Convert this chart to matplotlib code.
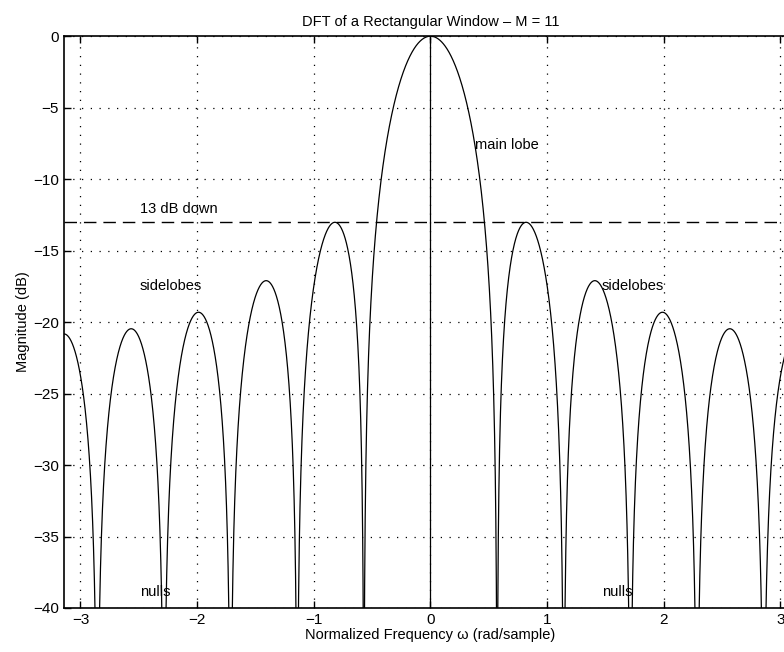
import numpy as np
import matplotlib.pyplot as plt

plt.rcParams['font.family'] = ['Liberation Sans', 'DejaVu Sans']

# Rectangular window, M = 11 samples
M = 11
window = [1, 1, 1, 1, 1, 1, 1, 1, 1, 1, 1]
nfft = 4096  # zero padding for a smooth spectrum

# Axis ticks and annotations
x_ticks = [-3, -2, -1, 0, 1, 2, 3]
y_ticks = [0, -5, -10, -15, -20, -25, -30, -35, -40]
sidelobe_level = -13
notes = [
    ('main lobe', 0.38, -7.6),
    ('13 dB down', -2.49, -12.1),
    ('sidelobes', -2.49, -17.5),
    ('sidelobes', 1.47, -17.5),
    ('nulls', -2.49, -38.9),
    ('nulls', 1.47, -38.9),
]

# Spectrum of the window
W = np.fft.fftshift(np.fft.fft(np.asarray(window, float), nfft))
w = np.fft.fftshift(np.fft.fftfreq(nfft)) * 2 * np.pi
mag_db = 20 * np.log10(np.abs(W) / np.max(np.abs(W)) + 1e-12)

fig = plt.figure(figsize=(7.84, 6.52), dpi=100)
ax = fig.add_axes([0.0816, 0.0675, 0.935, 0.877])

ax.plot(w, mag_db, color='black', linewidth=0.9)
ax.axhline(sidelobe_level, color='black', linewidth=1.0, linestyle=(0, (9, 5)))
ax.plot([0, 0], [-40, 0], color='black', linewidth=0.9)

for label, x, y in notes:
    ax.text(x, y, label, fontsize=10.5, va='center', ha='left')

ax.set_xlim(-np.pi, np.pi)
ax.set_ylim(-40, 0)
ax.set_xticks(x_ticks)
ax.set_yticks(y_ticks)
ax.set_xticklabels([str(t).replace('-', '\u2212') for t in x_ticks])
ax.set_yticklabels([str(t).replace('-', '\u2212') for t in y_ticks])
ax.tick_params(direction='in', top=True, right=True, labelsize=11, length=5, width=1)
ax.grid(True, color='black', linestyle=(0, (1, 6)), linewidth=0.9)

for side in ax.spines.values():
    side.set_linewidth(1.2)

ax.set_title('DFT of a Rectangular Window \u2013 M = 11', fontsize=10.5, pad=7)
ax.set_xlabel('Normalized Frequency \u03c9 (rad/sample)', fontsize=10.5, labelpad=1)
ax.set_ylabel('Magnitude (dB)', fontsize=10.5, labelpad=2)

fig.savefig('out.png', dpi=100)
